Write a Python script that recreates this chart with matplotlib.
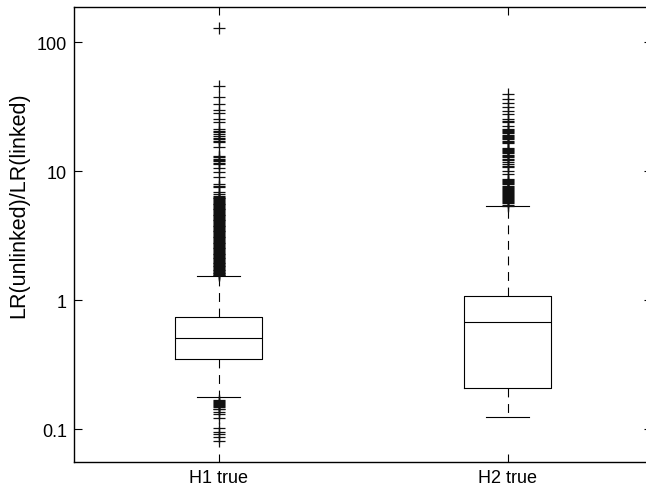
import matplotlib
matplotlib.use("Agg")
import matplotlib.pyplot as plt
from matplotlib.ticker import FixedLocator, NullLocator

plt.rcParams['font.family'] = ['Liberation Sans', 'DejaVu Sans']

categories = ["H1 true", "H2 true"]

# Box summary statistics (ratio scale)
q1 = [0.349, 0.208]
median = [0.508, 0.675]
q3 = [0.738, 1.074]
whisker_low = [0.176, 0.124]
whisker_high = [1.54, 5.38]

# Outlying observations
h1_outliers = [
    128.0, 45.8, 37.3, 33.1, 29.9, 28.0, 25.3, 23.8,
    21.2, 20.6, 20.0, 19.4, 18.8, 18.2, 17.7, 17.2, 16.7, 15.3,
    13.1, 12.8, 12.5, 12.2, 11.9, 11.6, 11.3, 10.5, 9.77, 8.94,
    7.93, 7.70, 7.52, 6.88, 6.62, 6.40,
    6.32, 6.22, 6.13, 6.04, 5.95, 5.86, 5.77, 5.68, 5.60, 5.51,
    5.43, 5.35, 5.27, 5.19, 5.11, 5.04, 4.96, 4.89, 4.81, 4.74,
    4.67, 4.60, 4.53, 4.46, 4.40, 4.33, 4.27, 4.20, 4.14, 4.08,
    4.01, 3.95, 3.89, 3.84, 3.78, 3.72, 3.67, 3.61, 3.56, 3.50,
    3.45, 3.40, 3.35, 3.30, 3.25, 3.20, 3.15, 3.10, 3.06, 3.01,
    2.97, 2.92, 2.88, 2.83, 2.79, 2.75, 2.71, 2.67, 2.63, 2.59,
    2.55, 2.51, 2.47, 2.44, 2.40, 2.36, 2.33, 2.29, 2.26, 2.23,
    2.19, 2.16, 2.13, 2.10, 2.07, 2.04, 2.01, 1.98, 1.95, 1.92,
    1.90, 1.87, 1.84, 1.82, 1.79, 1.77, 1.74, 1.72, 1.70, 1.67,
    1.65, 1.63, 1.61, 1.59, 1.57, 1.55,
    0.168, 0.165, 0.162, 0.159, 0.156, 0.153, 0.150, 0.147, 0.144,
    0.142, 0.135, 0.131, 0.121,
    0.101, 0.0953, 0.0915, 0.0862, 0.0813,
]
h2_outliers = [
    39.5, 36.3, 33.6, 31.2, 29.2, 27.6, 25.3, 24.5, 23.8, 22.4,
    21.2, 20.8, 20.4, 20.0, 19.6, 19.2, 18.8, 18.4, 18.0, 17.6,
    17.2, 16.9, 16.6,
    15.2, 14.9, 14.6, 14.3, 14.0, 13.7, 13.4, 13.1, 12.8, 12.5,
    12.2, 11.7, 11.3, 11.0, 10.7, 10.03, 9.5,
    8.66, 8.50, 8.34, 8.18, 8.02, 7.87, 7.72, 7.57, 7.43, 7.29,
    7.15, 7.02, 6.89, 6.76, 6.63, 6.51, 6.39, 6.27, 6.15, 6.04,
    5.93, 5.82, 5.71, 5.61, 5.50, 5.40,
]
outliers = [h1_outliers, h2_outliers]

stats = []
for i, name in enumerate(categories):
    stats.append(dict(label=name, med=median[i], q1=q1[i], q3=q3[i],
                      whislo=whisker_low[i], whishi=whisker_high[i],
                      fliers=outliers[i]))

fig = plt.figure(figsize=(6.46, 4.89), dpi=100)
ax = fig.add_axes([74 / 646, 26 / 489, 578 / 646, 455 / 489])

line_kw = dict(color='black', linewidth=0.8)
ax.bxp(stats, positions=[1, 2], widths=0.3,
       boxprops=line_kw, medianprops=line_kw, capprops=line_kw,
       whiskerprops=dict(color='black', linewidth=0.8, linestyle=(0, (8, 6))),
       flierprops=dict(marker='+', markersize=8, markeredgecolor='#111111',
                       markeredgewidth=0.9, linestyle='none'))

ax.set_yscale('log')
ax.set_ylim(0.0555, 187)
ax.set_xlim(0.5, 2.5)
ax.yaxis.set_major_locator(FixedLocator([0.1, 1, 10, 100]))
ax.yaxis.set_minor_locator(NullLocator())
ax.set_yticklabels(['0.1', '1', '10', '100'])
ax.set_xticks([1, 2])
ax.set_xticklabels(categories)
ax.tick_params(direction='in', length=6, width=0.8, top=True, right=True,
               labelsize=13, pad=5)
ax.set_ylabel('LR(unlinked)/LR(linked)', fontsize=15.5)
ax.yaxis.set_label_coords(-0.078, 0.567)
for sp in ax.spines.values():
    sp.set_linewidth(1.0)

fig.savefig('out.png', dpi=100)
